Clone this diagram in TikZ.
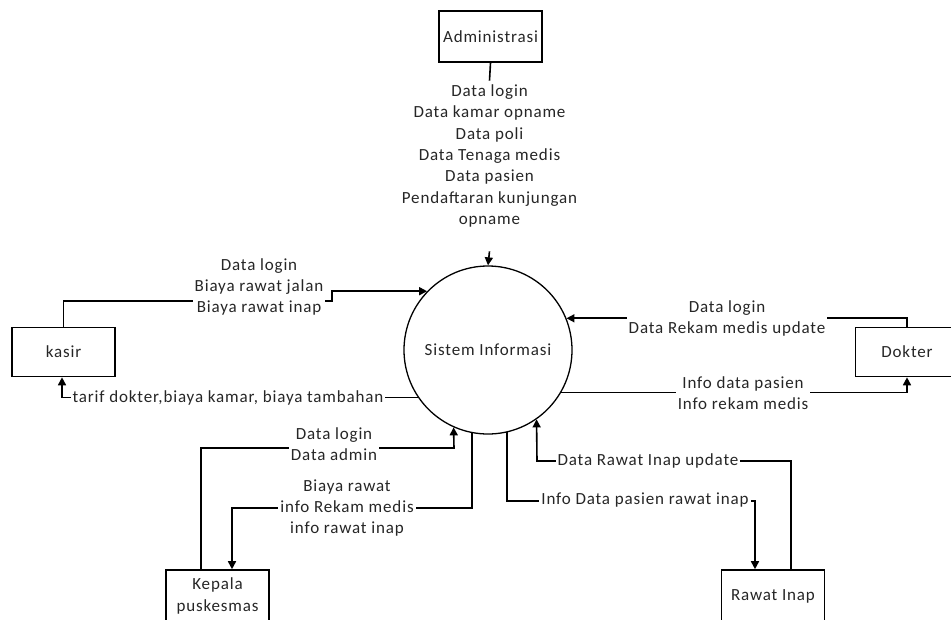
\documentclass[tikz,border=0pt]{standalone}
\usepackage{fontspec}
\setmainfont[LetterSpace=5]{Carlito}
\usetikzlibrary{arrows.meta,calc}

\begin{document}
\begin{tikzpicture}[x=1pt,y=-1pt,
  every node/.style={font=\fontsize{17}{21.3}\selectfont,text=black!85},
  flow/.style={line width=1.6pt,-{Triangle[length=8pt,width=8pt]}},
  plainline/.style={line width=1.6pt},
  entity/.style={draw,line width=1.6pt,minimum width=103pt,minimum height=49pt,inner sep=1pt,align=center},
  process/.style={draw,circle,line width=1.3pt,minimum size=168pt,inner sep=0pt},
  lbl/.style={fill=white,align=center,inner xsep=2pt,inner ysep=0pt}]

\useasboundingbox (0,0) rectangle (951,619);
\begin{scope}
\clip (0,0) rectangle (951,619);

% process and external entities
\node[process] (sys) at (488,350) {Sistem Informasi};
\node[entity,minimum height=51pt] (adm) at (490.5,36.5) {Administrasi};
\node[entity] (kasir) at (63.5,352) {kasir};
\node[entity] (dokter) at (907,352) {Dokter};
\node[entity,minimum height=52pt] (kepala) at (217.5,596) {Kepala\\puskesmas};
\node[entity,minimum height=52pt] (rawat) at (773,596) {Rawat Inap};

% bend points
\coordinate (kbend) at (332,301);
\coordinate (pin) at (454,448);
\coordinate (pout) at (232,508);
\coordinate (rin) at (755,501);
\coordinate (rout) at (537,461);

% Administrasi -> system, split around its label
\node[lbl,inner ysep=4pt] (admtxt) at (489.5,156) {Data login\\Data kamar opname\\Data poli\\Data Tenaga medis\\Data pasien\\Pendaftaran kunjungan\\opname};
\draw[plainline] (adm.south) -- (admtxt.north);
\draw[flow] ([yshift=-20pt]admtxt.south) -- (sys.north);

% kasir
\draw[flow] (kasir.north) |- (kbend) |- (sys.136.4);
\node[lbl] at (259,287) {Data login\\Biaya rawat jalan\\Biaya rawat inap};
\draw[flow] (sys.214.8) -| ([xshift=-1.5pt]kasir.south);
\node[lbl] at (228,398) {tarif dokter,biaya kamar, biaya tambahan};

% Dokter
\draw[flow] (dokter.north) |- (sys.22.4);
\node[lbl] at (727,318.5) {Data login\\Data Rekam medis update};
\draw[flow] (sys.330) -| (dokter.south);
\node[lbl] at (743,393.5) {Info data pasien\\Info rekam medis};

% Kepala puskesmas
\draw[flow] ([xshift=-16.5pt]kepala.north) |- (pin) -- (sys.246.1);
\node[lbl] at (334,444.5) {Data login\\Data admin};
\draw[flow] (sys.259.7) |- (pout) -| ([xshift=14.5pt]kepala.north);
\node[lbl] at (347,508) {Biaya rawat\\info Rekam medis\\info rawat inap};

% Rawat Inap
\draw[flow] (sys.283.8) |- (rin) -| ([xshift=-18pt]rawat.north);
\node[lbl] at (645,500) {Info Data pasien rawat inap};
\draw[flow] ([xshift=18pt]rawat.north) |- (rout) -- (sys.305.7);
\node[lbl] at (648,461) {Data Rawat Inap update};
\end{scope}
\end{tikzpicture}
\end{document}
